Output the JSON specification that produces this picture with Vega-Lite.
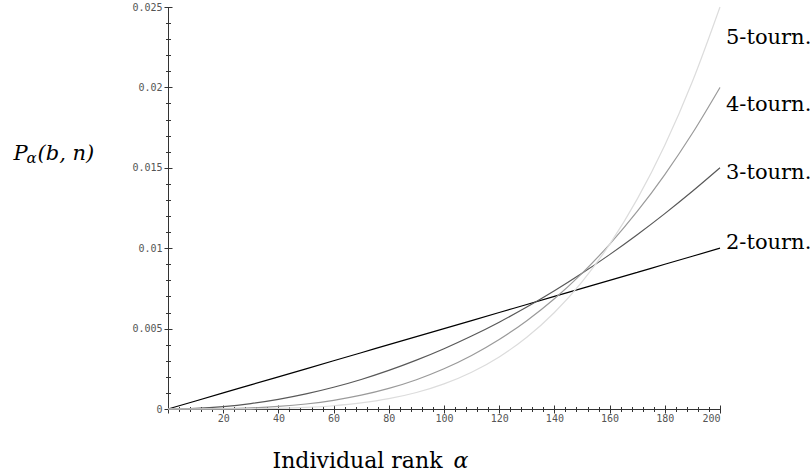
{
  "$schema": "https://vega.github.io/schema/vega-lite/v6.json",
  "width": 552,
  "height": 402,
  "autosize": "none",
  "padding": {"left": 168, "top": 7, "right": 90, "bottom": 64},
  "background": "white",
  "config": {
    "view": {"stroke": null},
    "axis": {
      "grid": false,
      "labelFont": "DejaVu Sans Mono",
      "labelFontSize": 10,
      "labelColor": "#555",
      "domainColor": "#333",
      "tickColor": "#333",
      "titleFont": "DejaVu Serif",
      "titleFontSize": 21,
      "titleFontWeight": "normal",
      "titleColor": "#000",
      "titleAngle": 0,
      "titleAlign": "left",
      "titleBaseline": "alphabetic"
    }
  },
  "datasets": {
    "curves": [
      {"alpha": 0, "b": 2, "p": 0}, {"alpha": 10, "b": 2, "p": 0.0005}, {"alpha": 20, "b": 2, "p": 0.001}, {"alpha": 30, "b": 2, "p": 0.0015}, {"alpha": 40, "b": 2, "p": 0.002}, {"alpha": 50, "b": 2, "p": 0.0025}, {"alpha": 60, "b": 2, "p": 0.003}, {"alpha": 70, "b": 2, "p": 0.0035}, {"alpha": 80, "b": 2, "p": 0.004}, {"alpha": 90, "b": 2, "p": 0.0045}, {"alpha": 100, "b": 2, "p": 0.005}, {"alpha": 110, "b": 2, "p": 0.0055}, {"alpha": 120, "b": 2, "p": 0.006}, {"alpha": 130, "b": 2, "p": 0.0065}, {"alpha": 140, "b": 2, "p": 0.007}, {"alpha": 150, "b": 2, "p": 0.0075}, {"alpha": 160, "b": 2, "p": 0.008}, {"alpha": 170, "b": 2, "p": 0.0085}, {"alpha": 180, "b": 2, "p": 0.009}, {"alpha": 190, "b": 2, "p": 0.0095}, {"alpha": 200, "b": 2, "p": 0.01},
      {"alpha": 0, "b": 3, "p": 0}, {"alpha": 10, "b": 3, "p": 0.0000375}, {"alpha": 20, "b": 3, "p": 0.00015}, {"alpha": 30, "b": 3, "p": 0.0003375}, {"alpha": 40, "b": 3, "p": 0.0006}, {"alpha": 50, "b": 3, "p": 0.0009375}, {"alpha": 60, "b": 3, "p": 0.00135}, {"alpha": 70, "b": 3, "p": 0.0018375}, {"alpha": 80, "b": 3, "p": 0.0024}, {"alpha": 90, "b": 3, "p": 0.0030375}, {"alpha": 100, "b": 3, "p": 0.00375}, {"alpha": 110, "b": 3, "p": 0.0045375}, {"alpha": 120, "b": 3, "p": 0.0054}, {"alpha": 130, "b": 3, "p": 0.0063375}, {"alpha": 140, "b": 3, "p": 0.00735}, {"alpha": 150, "b": 3, "p": 0.0084375}, {"alpha": 160, "b": 3, "p": 0.0096}, {"alpha": 170, "b": 3, "p": 0.0108375}, {"alpha": 180, "b": 3, "p": 0.01215}, {"alpha": 190, "b": 3, "p": 0.0135375}, {"alpha": 200, "b": 3, "p": 0.015},
      {"alpha": 0, "b": 4, "p": 0}, {"alpha": 10, "b": 4, "p": 0.0000025}, {"alpha": 20, "b": 4, "p": 0.00002}, {"alpha": 30, "b": 4, "p": 0.0000675}, {"alpha": 40, "b": 4, "p": 0.00016}, {"alpha": 50, "b": 4, "p": 0.0003125}, {"alpha": 60, "b": 4, "p": 0.00054}, {"alpha": 70, "b": 4, "p": 0.0008575}, {"alpha": 80, "b": 4, "p": 0.00128}, {"alpha": 90, "b": 4, "p": 0.0018225}, {"alpha": 100, "b": 4, "p": 0.0025}, {"alpha": 110, "b": 4, "p": 0.0033275}, {"alpha": 120, "b": 4, "p": 0.00432}, {"alpha": 130, "b": 4, "p": 0.0054925}, {"alpha": 140, "b": 4, "p": 0.00686}, {"alpha": 150, "b": 4, "p": 0.0084375}, {"alpha": 160, "b": 4, "p": 0.01024}, {"alpha": 170, "b": 4, "p": 0.0122825}, {"alpha": 180, "b": 4, "p": 0.01458}, {"alpha": 190, "b": 4, "p": 0.0171475}, {"alpha": 200, "b": 4, "p": 0.02},
      {"alpha": 0, "b": 5, "p": 0}, {"alpha": 10, "b": 5, "p": 0.00000016}, {"alpha": 20, "b": 5, "p": 0.0000025}, {"alpha": 30, "b": 5, "p": 0.0000127}, {"alpha": 40, "b": 5, "p": 0.00004}, {"alpha": 50, "b": 5, "p": 0.0000977}, {"alpha": 60, "b": 5, "p": 0.0002025}, {"alpha": 70, "b": 5, "p": 0.0003752}, {"alpha": 80, "b": 5, "p": 0.00064}, {"alpha": 90, "b": 5, "p": 0.0010252}, {"alpha": 100, "b": 5, "p": 0.0015625}, {"alpha": 110, "b": 5, "p": 0.0022877}, {"alpha": 120, "b": 5, "p": 0.00324}, {"alpha": 130, "b": 5, "p": 0.0044627}, {"alpha": 140, "b": 5, "p": 0.0060025}, {"alpha": 150, "b": 5, "p": 0.0079102}, {"alpha": 160, "b": 5, "p": 0.01024}, {"alpha": 170, "b": 5, "p": 0.0130502}, {"alpha": 180, "b": 5, "p": 0.0164025}, {"alpha": 190, "b": 5, "p": 0.0203627}, {"alpha": 200, "b": 5, "p": 0.025}
    ],
    "labels": [
      {"alpha": 200, "p": 0.0231, "label": "5-tourn."},
      {"alpha": 200, "p": 0.0189, "label": "4-tourn."},
      {"alpha": 200, "p": 0.0147, "label": "3-tourn."},
      {"alpha": 200, "p": 0.0103, "label": "2-tourn."}
    ]
  },
  "layer": [
    {
      "data": {"name": "curves"},
      "mark": {"type": "line", "interpolate": "monotone", "strokeWidth": 1.2, "clip": false},
      "encoding": {
        "x": {
          "field": "alpha", "type": "quantitative",
          "scale": {"domain": [0, 200], "nice": false},
          "axis": {
            "orient": "bottom", "ticks": false, "tickSize": 0, "domain": true,
            "values": [0, 20, 40, 60, 80, 100, 120, 140, 160, 180, 200],
            "labelExpr": "datum.value == 0 ? '' : datum.label",
            "labelPadding": 4, "labelBaseline": "top",
            "title": "Individual rank", "titleFontSize": 22, "titleX": 104, "titleY": 58
          }
        },
        "y": {
          "field": "p", "type": "quantitative",
          "scale": {"domain": [0, 0.025], "nice": false},
          "axis": {
            "orient": "left", "ticks": false, "tickSize": 0, "domain": true,
            "values": [0, 0.005, 0.01, 0.015, 0.02, 0.025],
            "format": "~g", "labelPadding": 6,
            "title": "P", "titleFontStyle": "italic", "titleX": -155, "titleY": 152
          }
        },
        "color": {
          "field": "b", "type": "nominal",
          "scale": {"domain": [2, 3, 4, 5], "range": ["#000000", "#585858", "#9a9a9a", "#dcdcdc"]},
          "legend": null
        }
      }
    },
    {
      "data": {"name": "labels"},
      "mark": {"type": "text", "align": "left", "baseline": "middle", "dx": 6, "font": "DejaVu Serif", "fontSize": 21, "color": "#000"},
      "encoding": {
        "x": {
          "field": "alpha", "type": "quantitative",
          "axis": {
            "orient": "bottom", "offset": -4, "tickSize": 8, "labels": false, "domain": false,
            "values": [0, 20, 40, 60, 80, 100, 120, 140, 160, 180, 200],
            "title": "α", "titleFontStyle": "italic", "titleFontSize": 22, "titleX": 285, "titleY": 62
          }
        },
        "y": {
          "field": "p", "type": "quantitative",
          "axis": {
            "orient": "left", "offset": -4, "tickSize": 8, "labels": false, "domain": false,
            "values": [0, 0.005, 0.01, 0.015, 0.02, 0.025],
            "title": "(b, n)", "titleFontStyle": "italic", "titleX": -135, "titleY": 152
          }
        },
        "text": {"field": "label", "type": "nominal"}
      }
    },
    {
      "data": {"name": "labels"},
      "mark": {"type": "point", "opacity": 0},
      "encoding": {
        "x": {
          "field": "alpha", "type": "quantitative",
          "axis": {
            "orient": "bottom", "offset": -2.5, "tickSize": 5, "labels": false, "domain": false,
            "values": [0, 4, 8, 12, 16, 20, 24, 28, 32, 36, 40, 44, 48, 52, 56, 60, 64, 68, 72, 76, 80, 84, 88, 92, 96, 100, 104, 108, 112, 116, 120, 124, 128, 132, 136, 140, 144, 148, 152, 156, 160, 164, 168, 172, 176, 180, 184, 188, 192, 196, 200],
            "title": null
          }
        },
        "y": {
          "field": "p", "type": "quantitative",
          "axis": {
            "orient": "left", "offset": -2.5, "tickSize": 5, "labels": false, "domain": false,
            "values": [0, 0.001, 0.002, 0.003, 0.004, 0.005, 0.006, 0.007, 0.008, 0.009, 0.01, 0.011, 0.012, 0.013, 0.014, 0.015, 0.016, 0.017, 0.018, 0.019, 0.02, 0.021, 0.022, 0.023, 0.024, 0.025],
            "title": "α", "titleFontStyle": "italic", "titleFontSize": 15, "titleX": -144.5, "titleY": 155
          }
        }
      }
    }
  ],
  "resolve": {"axis": {"x": "independent", "y": "independent"}}
}
